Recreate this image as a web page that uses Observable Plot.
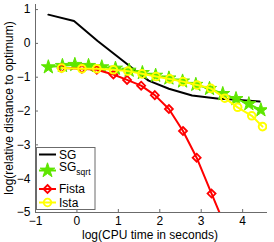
<!DOCTYPE html>
<html><head><meta charset="utf-8">
<script src="https://cdn.jsdelivr.net/npm/d3@7"></script>
<script src="https://cdn.jsdelivr.net/npm/@observablehq/plot@0.6"></script>
<style>
body{margin:0;background:#fff}
svg{font-family:"Liberation Sans",Arial,Helvetica,sans-serif}
</style>
</head><body><div id="chart"></div><script>
// ---- data (log10 CPU time, log10 relative distance) ----
const sgX = [-0.69, -0.07, 0.5, 1.41, 1.73, 2.22, 2.78, 3.43, 3.91, 4.41];
const sgY = [0.85, 0.66, 0.07, -0.80, -1.10, -1.34, -1.54, -1.64, -1.67, -1.72];

const sqrtX = [-0.69, -0.35, -0.05, 0.28, 0.6, 0.93, 1.26, 1.58, 1.9, 2.22, 2.55, 2.87, 3.2, 3.52, 3.84, 4.15, 4.44];
const sqrtY = [-0.70, -0.66, -0.63, -0.66, -0.70, -0.74, -0.80, -0.87, -0.95, -1.03, -1.12, -1.22, -1.34, -1.49, -1.64, -1.79, -1.97];

const fistaX = [-0.37, 0.12, 0.48, 0.88, 1.21, 1.55, 1.88, 2.22, 2.56, 2.89, 3.25, 3.6];
const fistaY = [-0.73, -0.75, -0.78, -0.92, -1.08, -1.25, -1.53, -1.94, -2.59, -3.38, -4.44, -5.47];

const istaX = [-0.37, 0.12, 0.48, 0.88, 1.23, 1.57, 1.91, 2.24, 2.56, 2.90, 3.23, 3.57, 3.88, 4.22, 4.48];
const istaY = [-0.73, -0.75, -0.75, -0.78, -0.82, -0.90, -0.98, -1.05, -1.13, -1.23, -1.33, -1.62, -1.89, -2.14, -2.46];

const xTicks = [-1, 0, 1, 2, 3, 4];
const yTicks = [-5, -4, -3, -2, -1, 0, 1];
const xLabel = "log(CPU time in seconds)";
const yLabel = "log(relative distance to optimum)";
const legendNames = ["SG", "SG", "Fista", "Ista"];
const legendSub = ["", "sqrt", "", ""];

// ---- build tables ----
const zip = (xs, ys) => xs.map((x, i) => ({x, y: ys[i]}));
const sg = zip(sgX, sgY), sq = zip(sqrtX, sqrtY), fi = zip(fistaX, fistaY), is = zip(istaX, istaY);

const W = 274, H = 242, mL = 35, mR = 7, mT = 4, mB = 30;
const axisColor = "#6b6b6b";
const green = "#5ee600", red = "#ff0000", yellow = "#ffff00";
const fmt = d => d < 0 ? "\u2212" + Math.abs(d) : String(d);

const chart = Plot.plot({
  width: W, height: H,
  marginLeft: mL, marginRight: mR, marginTop: mT, marginBottom: mB,
  style: {fontSize: "12px", fontFamily: "Liberation Sans, Arial, sans-serif", color: "#000", background: "#fff"},
  x: {domain: [-1, 4.6]},
  y: {domain: [-5, 1.15]},
  marks: [
    Plot.axisX(xTicks, {tickSize: 0, tickPadding: 4, tickFormat: fmt, label: null, fontSize: 12}),
    Plot.axisY(yTicks, {tickSize: 0, tickPadding: 5, tickFormat: fmt, label: null, fontSize: 12}),
    Plot.tickY(yTicks, {y: d => d, stroke: axisColor, insetRight: W - mL - mR - 3}),
    Plot.tickX(xTicks, {x: d => d, stroke: axisColor, insetTop: H - mT - mB - 3}),
    Plot.ruleX([-1], {stroke: axisColor}),
    Plot.ruleY([-5], {stroke: axisColor}),
    Plot.line(sg, {x: "x", y: "y", stroke: "#000", strokeWidth: 2, clip: true}),
    Plot.line(sq, {x: "x", y: "y", stroke: green, strokeWidth: 2, clip: true}),
    Plot.dot(sq, {x: "x", y: "y", symbol: "star", r: 4.4, fill: green, stroke: green, strokeWidth: 1, clip: true}),
    Plot.line(fi, {x: "x", y: "y", stroke: red, strokeWidth: 2, clip: true}),
    Plot.dot(fi, {x: "x", y: "y", symbol: "diamond2", r: 3.6, fill: "none", stroke: red, strokeWidth: 1.8, clip: true}),
    Plot.line(is, {x: "x", y: "y", stroke: yellow, strokeWidth: 2, clip: true}),
    Plot.dot(is, {x: "x", y: "y", symbol: "circle", r: 3.8, fill: "none", stroke: yellow, strokeWidth: 2, clip: true})
  ]
});

const svg = d3.select(chart);
// axis labels
svg.append("text").attr("x", 150).attr("y", 239).attr("text-anchor", "middle")
  .attr("font-size", 12).attr("fill", "#000").text(xLabel);
svg.append("text").attr("transform", "translate(13,108) rotate(-90)").attr("text-anchor", "middle")
  .attr("font-size", 12).attr("fill", "#000").text(yLabel);

// legend
const lg = svg.append("g").attr("text-anchor", "start");
lg.append("rect").attr("x", 36.5).attr("y", 147.5).attr("width", 58.5).attr("height", 62)
  .attr("fill", "#fff").attr("stroke", axisColor).attr("stroke-width", 1);
const rows = [154.5, 170.5, 189, 202.5];
const textY = [158.5, 171, 193.2, 206.7];
const cols = ["#000", green, red, yellow];
const syms = [null, d3.symbolStar, d3.symbolDiamond2, d3.symbolCircle];
const symSize = [0, 4.6 * 4.6 * Math.PI, 3.6 * 3.6 * Math.PI, 3.8 * 3.8 * Math.PI];
legendNames.forEach((name, i) => {
  const y = rows[i];
  lg.append("line").attr("x1", 39).attr("x2", 56).attr("y1", y).attr("y2", y)
    .attr("stroke", cols[i]).attr("stroke-width", 2);
  if (syms[i]) {
    lg.append("path").attr("d", d3.symbol(syms[i], symSize[i])())
      .attr("transform", `translate(47.5,${y})`).attr("stroke", cols[i]).attr("stroke-width", i === 1 ? 1 : 1.8)
      .attr("fill", i === 1 ? cols[i] : "none");
  }
  const t = lg.append("text").attr("x", 59).attr("y", textY[i])
    .attr("text-anchor", "start").attr("font-size", 12).attr("fill", "#000").text(name);
  if (legendSub[i]) t.append("tspan").attr("font-size", 8.5).attr("dy", 3.8).text(legendSub[i]);
});

document.getElementById("chart").appendChild(chart);
</script></body></html>
